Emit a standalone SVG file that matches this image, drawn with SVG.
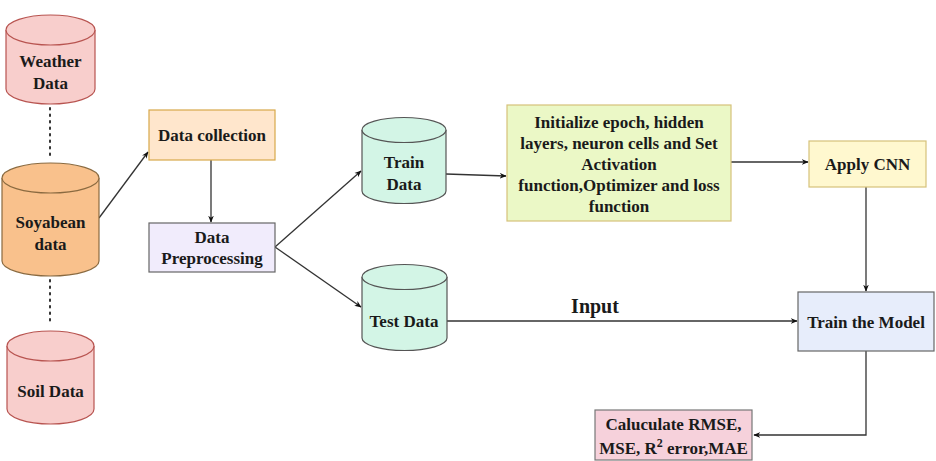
<svg xmlns="http://www.w3.org/2000/svg" width="936" height="461" viewBox="0 0 936 461">
<defs>
<style>
text{font-family:"Liberation Serif","Times New Roman",serif;font-weight:bold;font-size:17px;fill:#1a1a1a;text-anchor:middle;}
.pink{fill:#F8CECC;stroke:#B85450;stroke-width:1.2;}
.orange{fill:#F9C18C;stroke:#8a6a40;stroke-width:1.2;}
.green{fill:#D3F5E6;stroke:#555;stroke-width:1.2;}
.edge{fill:none;stroke:#333;stroke-width:1.3;}
.dot{fill:none;stroke:#333;stroke-width:2;stroke-dasharray:1.5 5;stroke-linecap:round;}
</style>
<marker id="arr" viewBox="0 0 10 10" refX="9" refY="5" markerWidth="7" markerHeight="7" orient="auto" markerUnits="userSpaceOnUse">
<path d="M0,1 L10,5 L0,9 L3,5 z" fill="#111"/>
</marker>
</defs>
<rect width="936" height="461" fill="#fff"/>

<g id="connectors">
<line class="dot" x1="50" y1="108" x2="50" y2="157"/>
<line class="dot" x1="50" y1="280" x2="50" y2="325"/>
<line class="edge" x1="99" y1="218" x2="148" y2="152" marker-end="url(#arr)"/>
<line class="edge" x1="211" y1="160" x2="211" y2="222" marker-end="url(#arr)"/>
<line class="edge" x1="275" y1="247" x2="361" y2="171" marker-end="url(#arr)"/>
<line class="edge" x1="275" y1="247" x2="361" y2="307" marker-end="url(#arr)"/>
<line class="edge" x1="446" y1="174" x2="506" y2="176" marker-end="url(#arr)"/>
<line class="edge" x1="731" y1="162" x2="808" y2="162" marker-end="url(#arr)"/>
<line class="edge" x1="866" y1="187" x2="866" y2="291" marker-end="url(#arr)"/>
<line class="edge" x1="447" y1="321" x2="797" y2="321" marker-end="url(#arr)"/>
<polyline class="edge" points="866,351 866,435 754,435" marker-end="url(#arr)"/>
<text x="595" y="313" style="font-size:20px">Input</text>
</g>

<g id="weather">
<path class="pink" d="M6,30 A44.5,15 0 0 1 95,30 L95,89 A44.5,15 0 0 1 6,89 Z"/>
<path class="pink" d="M6,30 A44.5,15 0 0 0 95,30" fill="none"/>
<text x="50.5" y="67">Weather</text>
<text x="50.5" y="89">Data</text>
</g>

<g id="soyabean">
<path class="orange" d="M2,178 A48.5,15 0 0 1 99,178 L99,261 A48.5,15 0 0 1 2,261 Z"/>
<path class="orange" d="M2,178 A48.5,15 0 0 0 99,178" fill="none"/>
<text x="50.5" y="228">Soyabean</text>
<text x="50.5" y="250">data</text>
</g>

<g id="soil">
<path class="pink" d="M7,346 A43.5,15 0 0 1 94,346 L94,409 A43.5,15 0 0 1 7,409 Z"/>
<path class="pink" d="M7,346 A43.5,15 0 0 0 94,346" fill="none"/>
<text x="50.5" y="397">Soil Data</text>
</g>

<g id="collection">
<rect x="149" y="110" width="126" height="50" fill="#FFE6CC" stroke="#D7A84A" stroke-width="1.2"/>
<text x="212" y="141">Data collection</text>
</g>

<g id="preprocessing">
<rect x="149" y="223" width="126" height="49" fill="#F1ECFC" stroke="#666" stroke-width="1.2"/>
<text x="212" y="243">Data</text>
<text x="212" y="264">Preprocessing</text>
</g>

<g id="train">
<path class="green" d="M362,130 A42,12.5 0 0 1 446,130 L446,191 A42,12.5 0 0 1 362,191 Z"/>
<path class="green" d="M362,130 A42,12.5 0 0 0 446,130" fill="none"/>
<text x="404" y="168">Train</text>
<text x="404" y="190">Data</text>
</g>

<g id="test">
<path class="green" d="M362,277 A42.5,12.5 0 0 1 447,277 L447,338 A42.5,12.5 0 0 1 362,338 Z"/>
<path class="green" d="M362,277 A42.5,12.5 0 0 0 447,277" fill="none"/>
<text x="404" y="327">Test Data</text>
</g>

<g id="initialize">
<rect x="507" y="105" width="224" height="116" fill="#EBF8C6" stroke="#D6C27A" stroke-width="1.2"/>
<text x="619" y="128">Initialize epoch, hidden</text>
<text x="619" y="149">layers, neuron cells and Set</text>
<text x="619" y="170">Activation</text>
<text x="619" y="191">function,Optimizer and loss</text>
<text x="619" y="212">function</text>
</g>

<g id="cnn">
<rect x="809" y="141" width="117" height="46" fill="#FFF8CF" stroke="#D6C27A" stroke-width="1.2"/>
<text x="867.5" y="170">Apply CNN</text>
</g>

<g id="model">
<rect x="798" y="292" width="136" height="59" fill="#E7EDFB" stroke="#666" stroke-width="1.2"/>
<text x="866" y="328">Train the Model</text>
</g>

<g id="calculate">
<rect x="595" y="410" width="157" height="50" fill="#F6D1DB" stroke="#777" stroke-width="1.2"/>
<text x="673.5" y="430">Caluculate RMSE,</text>
<text x="673.5" y="454">MSE, R<tspan dy="-7" style="font-size:12px">2</tspan><tspan dy="7"> error,MAE</tspan></text>
</g>
</svg>
